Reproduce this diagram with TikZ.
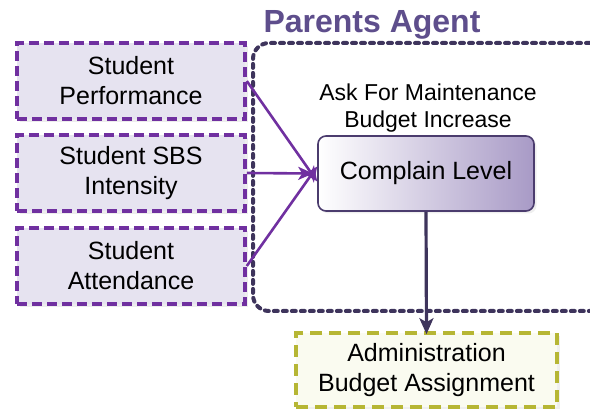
\documentclass[tikz,border=0pt]{standalone}
\usepackage{fontspec}
\setmainfont{Liberation Sans}
\usepackage{tikz}
\usetikzlibrary{arrows.meta,positioning,shadows}

\definecolor{inpurple}{RGB}{112,48,160}
\definecolor{infill}{RGB}{230,227,240}
\definecolor{agentline}{RGB}{62,52,92}
\definecolor{titlecol}{RGB}{94,78,140}
\definecolor{complainline}{RGB}{75,60,110}
\definecolor{complainright}{RGB}{168,154,198}
\definecolor{adminline}{RGB}{182,182,52}
\definecolor{adminfill}{RGB}{250,251,240}

\begin{document}
\begin{tikzpicture}[x=1pt, y=-1pt,
    input/.style={draw=inpurple, fill=infill, line width=3.6pt, dash pattern=on 10pt off 5pt,
      minimum width=228pt, minimum height=76pt, align=center, font=\fontsize{25}{30}\selectfont,
      drop shadow={shadow xshift=3pt, shadow yshift=-3pt, fill=black!14}},
    agentbox/.style={draw=agentline, line width=4pt, dash pattern=on 4pt off 5pt, line cap=round,
      rounded corners=16pt, minimum width=398pt, minimum height=268pt},
    complain/.style={draw=complainline, line width=1.6pt, rounded corners=8pt, left color=white,
      right color=complainright, minimum width=216pt, minimum height=75pt,
      font=\fontsize{25}{30}\selectfont,
      drop shadow={shadow xshift=2.5pt, shadow yshift=-2.5pt, fill=black!12}},
    admin/.style={draw=adminline, fill=adminfill, line width=3.6pt, dash pattern=on 12pt off 7pt,
      minimum width=261pt, minimum height=74pt, align=center, font=\fontsize{25}{30}\selectfont,
      drop shadow={shadow xshift=3pt, shadow yshift=-3pt, fill=black!12}},
    feed/.style={-{Stealth[length=15pt, width=13pt, inset=4pt]}, line width=2.6pt, inpurple},
    result/.style={-{Stealth[length=16pt, width=14pt, inset=4pt]}, line width=3.2pt, agentline}
  ]
    \useasboundingbox (0,0) rectangle (590,409);
    \clip (0,0) rectangle (590,409);

    \node[agentbox] (agent) at (452,177) {};
    \node[font=\fontsize{32}{36}\selectfont\bfseries, text=titlecol] (title) at (372,25) {Parents Agent};

    \node[input] (perf) at (131,81) {Student\\Performance};
    \node[input] (sbs) at (131,173) {Student SBS\\Intensity};
    \node[input] (attend) at (131,266) {Student\\Attendance};

    \node[complain] (level) at (426,173.5) {Complain Level};
    \node[align=center, font=\fontsize{23}{27}\selectfont] (ask) at (428,108) {Ask For Maintenance\\Budget Increase};

    \node[admin] (budget) at (426.5,370) {Administration\\Budget Assignment};

    \draw[feed] (perf.east) -- ([yshift=-8pt]level.west);
    \draw[feed] (sbs.east) -- ([xshift=-4pt]level.west);
    \draw[feed] (attend.east) -- ([yshift=7pt]level.west);
    \draw[result] (level.south) -- ([yshift=-3pt]budget.north);
\end{tikzpicture}
\end{document}
